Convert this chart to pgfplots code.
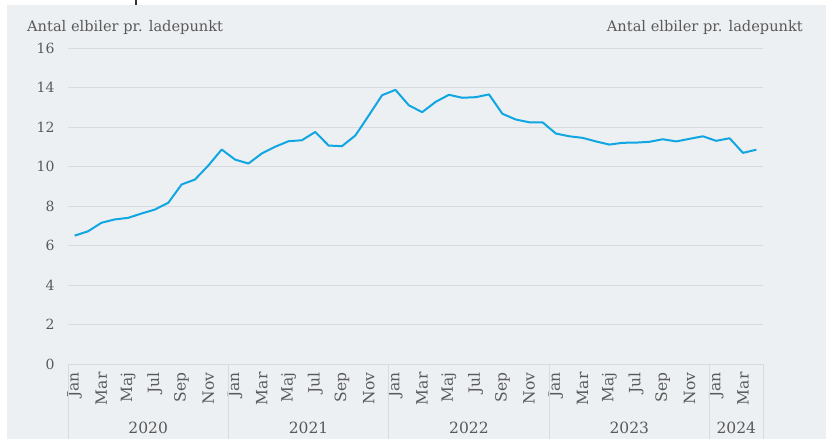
\documentclass[border=0pt]{standalone}
\usepackage{pgfplots}
\pgfplotsset{compat=1.18}
\usetikzlibrary{backgrounds}
\usepackage{fontspec}
\setmainfont{DejaVu Serif}
\definecolor{bg}{HTML}{EDF0F3}
\definecolor{gridc}{HTML}{D8DADD}
\definecolor{linec}{HTML}{10A6E2}
\definecolor{txt}{HTML}{595959}
\pgfplotstableread{
i v
0 6.50
1 6.72
2 7.15
3 7.32
4 7.40
5 7.62
6 7.82
7 8.16
8 9.09
9 9.34
10 10.05
11 10.86
12 10.35
13 10.15
14 10.66
15 11.00
16 11.28
17 11.33
18 11.75
19 11.06
20 11.03
21 11.57
22 12.58
23 13.61
24 13.88
25 13.10
26 12.75
27 13.27
28 13.63
29 13.48
30 13.51
31 13.65
32 12.67
33 12.38
34 12.24
35 12.24
36 11.67
37 11.53
38 11.45
39 11.27
40 11.11
41 11.20
42 11.21
43 11.25
44 11.38
45 11.27
46 11.40
47 11.53
48 11.30
49 11.43
50 10.69
51 10.85
}\datatable
\begin{document}
\begin{tikzpicture}
\begin{axis}[
  scale only axis, width=695pt, height=316pt,
  xmin=-0.5, xmax=51.5, ymin=0, ymax=16,
  ytick={0,2,...,16},
  xtick={0,2,...,50},
  xticklabels={Jan,Mar,Maj,Jul,Sep,Nov,Jan,Mar,Maj,Jul,Sep,Nov,Jan,Mar,Maj,Jul,Sep,Nov,Jan,Mar,Maj,Jul,Sep,Nov,Jan,Mar},
  axis line style={draw=none},
  major tick length=0pt,
  ymajorgrids,
  grid style={gridc, line width=0.9pt},
  tick label style={text=txt, font=\fontsize{14}{16}\selectfont},
  /pgf/number format/assume math mode=true,
  xticklabel style={rotate=90, anchor=east, font=\fontsize{15.5}{17}\selectfont},
  xticklabel shift=5pt,
  yticklabel shift=10pt,
  clip=false,
]
\coordinate (O) at (rel axis cs:0,0);
\addplot[linec, line width=2pt, line join=round] table[x=i, y=v] {\datatable};
\foreach \s in {-0.5,11.5,23.5,35.5,47.5,51.5} {
  \edef\tmp{\noexpand\draw[gridc, line width=0.9pt] (axis cs:\s,0) -- ([yshift=-75pt]axis cs:\s,0);}
  \tmp
}
\foreach \c/\y in {5.5/2020,17.5/2021,29.5/2022,41.5/2023,49.5/2024} {
  \edef\tmp{\noexpand\node[text=txt, font=\noexpand\fontsize{15.5}{17}\noexpand\selectfont] at ([yshift=-64pt]axis cs:\c,0) {\y};}
  \tmp
}
\end{axis}
\begin{scope}[on background layer]
\fill[white] ([shift={(-68pt,-75pt)}]O) rectangle ([shift={(758pt,364pt)}]O);
\fill[bg] ([shift={(-61pt,-75pt)}]O) rectangle ([shift={(758pt,359pt)}]O);
\fill[black!80] ([shift={(67pt,359pt)}]O) rectangle ([shift={(69pt,364pt)}]O);
\end{scope}
\node[anchor=base west, text=txt, font=\fontsize{14.6}{16}\selectfont, inner sep=0] at ([shift={(-41pt,332pt)}]O) {Antal elbiler pr. ladepunkt};
\node[anchor=base east, text=txt, font=\fontsize{14.6}{16}\selectfont, inner sep=0] at ([shift={(735pt,332pt)}]O) {Antal elbiler pr. ladepunkt};
\end{tikzpicture}
\end{document}
